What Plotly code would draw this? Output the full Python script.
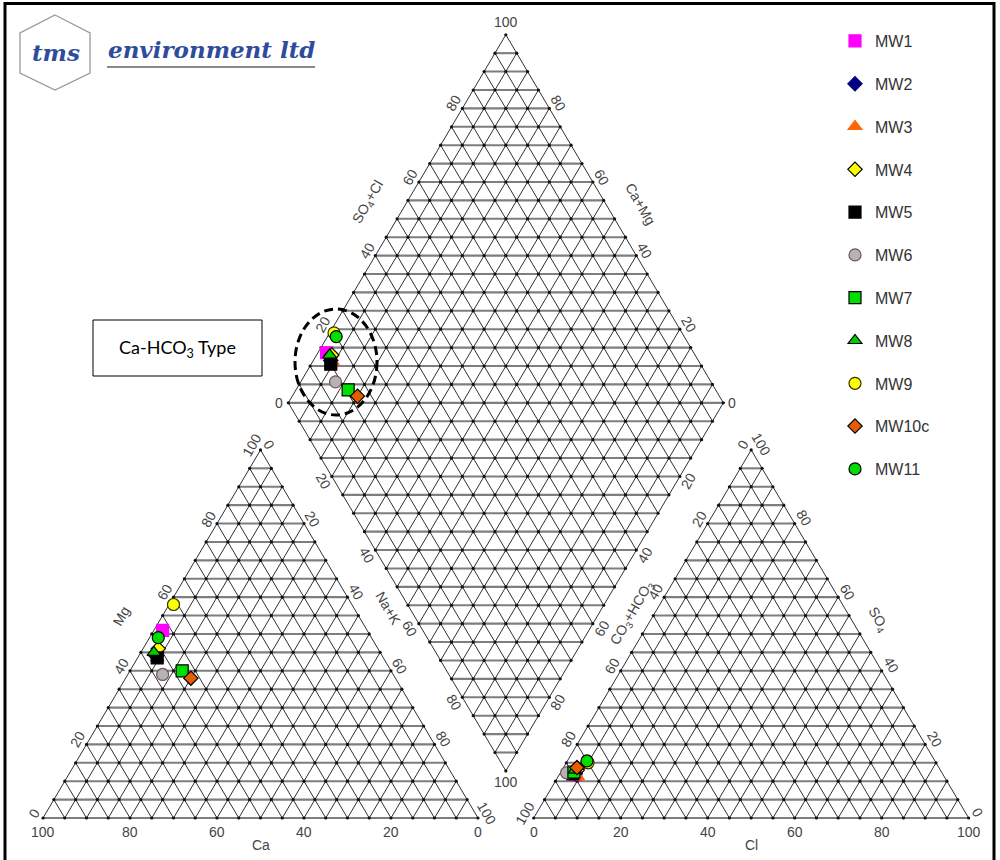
import numpy as np
import plotly.graph_objects as go

# ---------------- sample data (meq %) ----------------
samples = ["MW1", "MW2", "MW3", "MW4", "MW5", "MW6", "MW7", "MW8", "MW9", "MW10c", "MW11"]
mg_pct = [51, 44, 43.5, 46, 43.5, 39, 40, 45, 58, 38, 49]
nak_pct = [2, 4, 4.5, 3.5, 4.5, 8, 12, 3, 1, 15, 2]
ca_pct = [100 - m - n for m, n in zip(mg_pct, nak_pct)]
so4_pct = [11.8, 12, 11.2, 13, 12, 12.3, 12.5, 13, 15, 13.7, 15.5]
cl_pct = [3.8, 3.5, 4.5, 3.5, 3, 1.4, 3, 3, 5, 3.1, 4.5]
hco3_pct = [100 - s - c for s, c in zip(so4_pct, cl_pct)]

tick_values = [0, 20, 40, 60, 80, 100]

# marker styles
fills = ["#FF00FF", "#000080", "#FF6600", "#FFFF00", "#000000", "#B4B4B4",
         "#00E000", "#00CC00", "#FFFF00", "#E65C00", "#00DD00"]
edges = ["#FF00FF", "#000080", "#FF6600", "#000000", "#000000", "#7A5050",
         "#000000", "#000000", "#333300", "#000000", "#000000"]
symbols = ["square", "diamond", "triangle-up", "diamond", "square", "circle",
           "square", "triangle-up", "circle", "diamond", "circle"]
sizes = [12, 11, 12, 11, 12, 12, 12, 12, 12, 11, 12]

# ---------------- geometry ----------------
H = np.sqrt(3) / 2          # triangle height for unit side
GAP = 0.128                 # gap between the two triangles (side units)
PX0, PY0, SX, SY = 43, 818, 435, 425   # screen mapping of the diagram frame
W, HT = 1000, 860

def to_data(px, py):
    return (px - PX0) / SX, (PY0 - py) / SY

def shift(d, nx, ny):
    return d * nx / SX, -d * ny / SY

def paper(px, py):
    return px / W, 1 - py / HT

def cation_xy(ca, mg, nak):
    return (nak + 0.5 * mg) / 100, H * mg / 100

def anion_xy(hco3, so4, cl):
    return 1 + GAP + (cl + 0.5 * so4) / 100, H * so4 / 100

def diamond_xy(camg, so4cl):
    c, s = camg / 100, so4cl / 100
    return 1 + GAP / 2 + 0.5 * (s - c), H * (GAP + c + s)

# ---------------- grid ----------------
hx, hy, dx, dy = [], [], [], []
nodes_x, nodes_y = [], []

def seg(lx, ly, p, q):
    lx += [p[0], q[0], None]
    ly += [p[1], q[1], None]

N = 20
for x0 in (0.0, 1 + GAP):
    for i in range(N + 1):
        t = i / N
        seg(hx, hy, (x0 + t / 2, H * t), (x0 + 1 - t / 2, H * t))
        seg(dx, dy, (x0 + t, 0), (x0 + t + (1 - t) / 2, H * (1 - t)))
        seg(dx, dy, (x0 + t, 0), (x0 + t / 2, H * t))
        for j in range(N + 1 - i):
            nodes_x.append(x0 + t + 0.5 * j / N)
            nodes_y.append(H * j / N)

bx, by = 1 + GAP / 2, H * GAP
for i in range(N + 1):
    t = i / N
    seg(dx, dy, (bx + 0.5 * t, by + H * t), (bx + 0.5 * t - 0.5, by + H * t + H))
    seg(dx, dy, (bx - 0.5 * t, by + H * t), (bx - 0.5 * t + 0.5, by + H * t + H))
    for j in range(N + 1):
        nodes_x.append(bx + 0.5 * (j - i) / N)
        nodes_y.append(by + H * (i + j) / N)
for k in range(2 * N + 1):
    hw = 0.5 * (k if k <= N else 2 * N - k) / N
    seg(hx, hy, (bx - hw, by + H * k / N), (bx + hw, by + H * k / N))

fig = go.Figure()
fig.add_trace(go.Scatter(x=hx, y=hy, mode="lines", line=dict(color="#7E7E7E", width=2.1),
                         hoverinfo="skip", showlegend=False))
fig.add_trace(go.Scatter(x=dx, y=dy, mode="lines", line=dict(color="#303030", width=1.0),
                         hoverinfo="skip", showlegend=False))
fig.add_trace(go.Scatter(x=nodes_x, y=nodes_y, mode="markers",
                         marker=dict(size=3.2, color="#111111"),
                         hoverinfo="skip", showlegend=False))

# ---------------- samples ----------------
for k, name in enumerate(samples):
    pc = cation_xy(ca_pct[k], mg_pct[k], nak_pct[k])
    pa = anion_xy(hco3_pct[k], so4_pct[k], cl_pct[k])
    pd_ = diamond_xy(ca_pct[k] + mg_pct[k], so4_pct[k] + cl_pct[k])
    fig.add_trace(go.Scatter(
        x=[pc[0], pa[0], pd_[0]], y=[pc[1], pa[1], pd_[1]],
        mode="markers", name=name, legendgroup=name,
        marker=dict(symbol=symbols[k], size=sizes[k], color=fills[k],
                    line=dict(color=edges[k], width=1.2))))

# ---------------- labels ----------------
ann = []
LBL = dict(family="Liberation Sans, Arial", size=14, color="#444")

def label(pt, text, angle=0, d=0, n=(0, 0), size=None):
    ox, oy = shift(d, *n)
    f = dict(LBL)
    if size:
        f["size"] = size
    ann.append(dict(x=pt[0] + ox, y=pt[1] + oy, xref="x", yref="y", text=text,
                    textangle=angle, showarrow=False, font=f,
                    xanchor="center", yanchor="middle"))

NL = (-0.866, -0.5)   # outward normal, up-left
NR = (0.866, -0.5)    # outward normal, up-right
NDL = (-0.866, 0.5)   # outward normal, down-left
NDR = (0.866, 0.5)    # outward normal, down-right
ybase = to_data(0, 832)[1]

for v in tick_values:
    # cation triangle
    label((cation_xy(v, 0, 100 - v)[0], ybase), str(v))
    label(cation_xy(100 - v, v, 0), str(v), -60, 10, NL)
    label(cation_xy(0, 100 - v, v), str(v), 60, 10, NR)
    # anion triangle
    label((anion_xy(100 - v, 0, v)[0], ybase), str(v))
    label(anion_xy(v, 100 - v, 0), str(v), -60, 10, NL)
    label(anion_xy(0, v, 100 - v), str(v), 60, 11, NR)
    # diamond sides
    if 0 < v < 100:
        label(diamond_xy(100, v), str(v), -60, 10, NL)
        label(diamond_xy(v, 100), str(v), 60, 10, NR)
        label(diamond_xy(100 - v, 0), str(v), 60, 10, NDL)
        label(diamond_xy(0, 100 - v), str(v), -60, 10, NDR)

# diamond corners
label(diamond_xy(100, 0), "0", 0, 9, (-1, 0))
label(diamond_xy(0, 100), "0", 0, 9, (1, 0))
label(diamond_xy(100, 100), "100", 0, 13, (0, -1))
label(diamond_xy(0, 0), "100", 0, 11, (0, 1))

# axis titles
label((cation_xy(50, 0, 50)[0], to_data(0, 845)[1]), "Ca")
label(cation_xy(50, 50, 0), "Mg", -60, 35, NL)
label(cation_xy(0, 53, 47), "Na+K", 60, 29, NR)
label((anion_xy(50, 0, 50)[0], to_data(0, 845)[1]), "Cl")
label(anion_xy(47, 53, 0), "CO<sub>3</sub>+HCO<sub>3</sub>", -60, 19, NL)
label(anion_xy(0, 50.7, 49.3), "SO<sub>4</sub>", 60, 23, NR)
label(diamond_xy(100, 50), "SO<sub>4</sub>+Cl", -60, 33, NL)
label(diamond_xy(50, 100), "Ca+Mg", 60, 30, NR)

def paper_text(px, py, text, font):
    x, y = paper(px, py)
    ann.append(dict(x=x, y=y, xref="paper", yref="paper", showarrow=False,
                    xanchor="center", yanchor="middle", text=text, font=font))

# water-type callout
paper_text(177.5, 348, "Ca-HCO<sub>3</sub> Type",
           dict(family="Lato, Open Sans", size=18, color="#000"))

# logo text
paper_text(56, 52, "<b><i>tms</i></b>",
           dict(family="DejaVu Serif", size=23, color="#2F4C9C"))
paper_text(211, 50, "<b><i>environment ltd</i></b>",
           dict(family="DejaVu Serif", size=23, color="#2F4C9C"))

# ---------------- shapes ----------------
shapes = []

def ppath(points):
    s = ""
    for i, (px, py) in enumerate(points):
        x, y = paper(px, py)
        s += ("M" if i == 0 else "L") + f"{x:.5f},{y:.5f} "
    return s + "Z"

shapes.append(dict(type="path", xref="paper", yref="paper",
                   path=ppath([(55, 15), (90, 33), (90, 73), (55, 90), (20, 73), (20, 33)]),
                   line=dict(color="#9A9A9A", width=1.3)))
u0, uy = paper(107, 67)
u1, _ = paper(315, 67)
shapes.append(dict(type="line", xref="paper", yref="paper", x0=u0, x1=u1, y0=uy, y1=uy,
                   line=dict(color="#8A8A8A", width=1.8)))

bx0, by0 = paper(93, 320)
bx1, by1 = paper(262, 376)
shapes.append(dict(type="rect", xref="paper", yref="paper", x0=bx0, x1=bx1, y0=by1, y1=by0,
                   line=dict(color="#000", width=1)))

ex0, ey0 = paper(295, 309)
ex1, ey1 = paper(377, 415)
shapes.append(dict(type="circle", xref="paper", yref="paper", x0=ex0, x1=ex1, y0=ey1, y1=ey0,
                   line=dict(color="#000", width=3, dash="9px,5px")))

fx0, fy0 = paper(5, 3.5)
fx1, fy1 = paper(994, 862)
shapes.append(dict(type="rect", xref="paper", yref="paper", x0=fx0, x1=fx1, y0=fy1, y1=fy0,
                   line=dict(color="#000", width=3)))

xr = [to_data(0, 0)[0], to_data(W, 0)[0]]
yr = [to_data(0, HT)[1], to_data(0, 0)[1]]

fig.update_layout(
    width=W, height=HT,
    margin=dict(l=0, r=0, t=0, b=0),
    paper_bgcolor="white", plot_bgcolor="white",
    xaxis=dict(range=xr, visible=False, fixedrange=True),
    yaxis=dict(range=yr, visible=False, fixedrange=True),
    annotations=ann, shapes=shapes,
    legend=dict(x=0.835, y=1 - 24 / HT, xanchor="left", yanchor="top",
                tracegroupgap=19, itemsizing="trace",
                font=dict(family="Liberation Sans, Arial", size=16, color="#333"),
                bgcolor="rgba(0,0,0,0)"),
)

fig.write_html("out.html")
